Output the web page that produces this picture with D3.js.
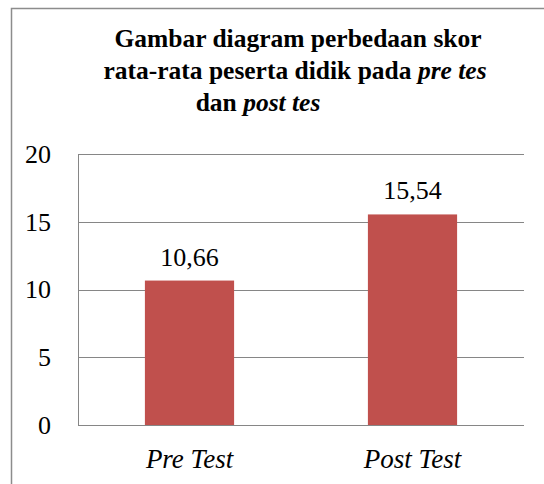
<!DOCTYPE html>
<html>
<head>
<meta charset="utf-8">
<script src="https://cdn.jsdelivr.net/npm/d3@7"></script>
</head>
<body style="margin:0;background:#fff;font-family:'Liberation Serif', serif">
<div id="chart"></div>
<script>
// data
const categories = ["Pre Test", "Post Test"]
const scores = [10.66, 15.54]
const yTicks = [0, 5, 10, 15, 20]
const titleLines = [
  [{ t: "Gambar diagram perbedaan skor", i: false }],
  [{ t: "rata-rata peserta didik pada ", i: false }, { t: "pre tes", i: true }],
  [{ t: "dan ", i: false }, { t: "post tes", i: true }]
]

const FONT = "'Liberation Serif', 'Times New Roman', 'DejaVu Serif', serif"
const width = 544
const height = 484
const margin = { top: 154, right: 20, bottom: 59, left: 78 }
const plotW = width - margin.left - margin.right
const plotH = height - margin.top - margin.bottom

const svg = d3.select("#chart")
  .append("svg")
  .attr("width", width)
  .attr("height", height)
  .attr("font-family", FONT)
  .style("display", "block")

// outer frame (cropped on right/bottom)
svg.append("rect")
  .attr("x", 11.5)
  .attr("y", 8.5)
  .attr("width", 600)
  .attr("height", 600)
  .attr("fill", "none")
  .attr("stroke", "#8c8c8c")
  .attr("stroke-width", 1.5)

// title
const titleX = [298, 295, 258]
const title = svg.append("text")
  .attr("text-anchor", "middle")
  .style("font-family", FONT)
  .attr("font-weight", "bold")
  .attr("font-size", 25.5)
  .attr("fill", "#000")
titleLines.forEach((line, li) => {
  line.forEach((part, pi) => {
    const ts = title.append("tspan")
      .attr("font-style", part.i ? "italic" : "normal")
      .style("font-family", FONT)
      .text(part.t)
    if (pi === 0) ts.attr("x", titleX[li]).attr("y", 47 + li * 32)
  })
})

const g = svg.append("g")
  .attr("transform", `translate(${margin.left}, ${margin.top})`)

const x = d3.scaleBand()
  .domain(categories)
  .range([0, plotW])
  .padding(0)

const y = d3.scaleLinear()
  .domain([0, 20])
  .range([plotH, 0])

// gridlines
g.selectAll(".grid")
  .data(yTicks)
  .enter()
  .append("line")
  .attr("x1", 0)
  .attr("x2", plotW)
  .attr("y1", d => Math.round(y(d)) + 0.5)
  .attr("y2", d => Math.round(y(d)) + 0.5)
  .attr("stroke", "#868686")
  .attr("stroke-width", 1)

// y axis
const yAxis = g.append("g")
  .call(d3.axisLeft(y).tickValues(yTicks).tickSize(0).tickPadding(27))
yAxis.attr("font-family", FONT)
yAxis.select(".domain").attr("stroke", "#868686")
yAxis.selectAll("text")
  .style("font-family", FONT)
  .attr("font-size", 26)
  .attr("fill", "#000")

// bars
const barW = x.bandwidth() * 0.4
g.selectAll(".bar")
  .data(scores)
  .enter()
  .append("rect")
  .attr("x", (d, i) => x(categories[i]) + (x.bandwidth() - barW) / 2)
  .attr("y", d => y(d))
  .attr("width", barW)
  .attr("height", d => plotH - y(d))
  .attr("fill", "#c0504d")

// value labels
g.selectAll(".val")
  .data(scores)
  .enter()
  .append("text")
  .attr("x", (d, i) => x(categories[i]) + x.bandwidth() / 2)
  .attr("y", d => y(d) - 15)
  .attr("text-anchor", "middle")
  .style("font-family", FONT)
  .attr("font-size", 26)
  .attr("fill", "#000")
  .text(d => d.toFixed(2).replace(".", ","))

// x axis labels
const xAxis = g.append("g")
  .attr("transform", `translate(0, ${plotH})`)
  .call(d3.axisBottom(x).tickSize(0).tickPadding(24))
xAxis.attr("font-family", FONT)
xAxis.select(".domain").remove()
xAxis.selectAll("text")
  .style("font-family", FONT)
  .attr("font-size", 27)
  .attr("font-style", "italic")
  .attr("fill", "#000")
</script>
</body>
</html>
